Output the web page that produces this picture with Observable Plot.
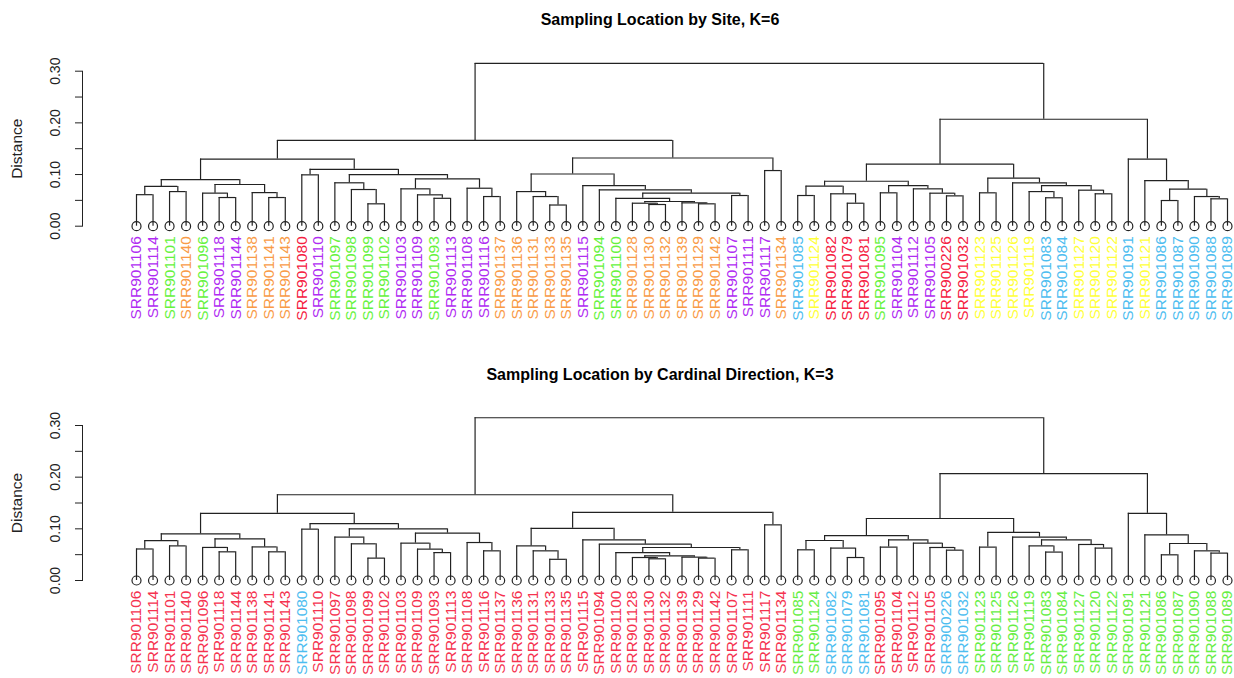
<!DOCTYPE html>
<html><head><meta charset="utf-8">
<script src="https://cdn.jsdelivr.net/npm/d3@7"></script>
<script src="https://cdn.jsdelivr.net/npm/@observablehq/plot@0.6"></script>
<style>
body{margin:0;background:#fff;width:1234px;height:678px;overflow:hidden;font-family:"Liberation Sans",Arial,sans-serif;}
.title{font-weight:bold;font-size:16px;text-align:center;padding-left:86px;box-sizing:border-box;width:1234px;color:#000;height:40px;line-height:40px;}
svg{display:block}
</style></head><body>
<div id="t1" class="title">Sampling Location by Site, K=6</div>
<div id="p1"></div>
<div id="t2" class="title">Sampling Location by Cardinal Direction, K=3</div>
<div id="p2"></div>
<script>
// leaf order as drawn
const leafLabels = ["SRR901106","SRR901114","SRR901101","SRR901140","SRR901096","SRR901118","SRR901144","SRR901138","SRR901141","SRR901143",
"SRR901080","SRR901110","SRR901097","SRR901098","SRR901099","SRR901102","SRR901103","SRR901109","SRR901093","SRR901113",
"SRR901108","SRR901116","SRR901137","SRR901136","SRR901131","SRR901133","SRR901135","SRR901115","SRR901094","SRR901100",
"SRR901128","SRR901130","SRR901132","SRR901139","SRR901129","SRR901142","SRR901107","SRR901111","SRR901117","SRR901134",
"SRR901085","SRR901124","SRR901082","SRR901079","SRR901081","SRR901095","SRR901104","SRR901112","SRR901105","SRR900226",
"SRR901032","SRR901123","SRR901125","SRR901126","SRR901119","SRR901083","SRR901084","SRR901127","SRR901120","SRR901122",
"SRR901091","SRR901121","SRR901086","SRR901087","SRR901090","SRR901088","SRR901089"];

// site cluster (K=6) of each leaf
const siteGroup = ["P","P","G","O","G","P","P","O","O","O",
"R","P","G","G","G","G","P","P","G","P",
"P","P","O","O","O","O","O","P","G","G",
"O","O","O","O","O","O","P","P","P","O",
"B","Y","R","R","R","G","P","P","P","R",
"R","Y","Y","Y","Y","B","B","Y","Y","Y",
"B","Y","B","B","B","B","B"];
const siteNames = ["P","G","O","R","B","Y"];
const siteColors = ["#B02CF2","#66F23D","#F99B47","#F5203F","#4DBDF0","#FFFF3A"];

// cardinal direction cluster (K=3) of each leaf
const directionGroup = ["R","R","R","R","R","R","R","R","R","R",
"B","R","R","R","R","R","R","R","R","R",
"R","R","R","R","R","R","R","R","R","R",
"R","R","R","R","R","R","R","R","R","R",
"G","G","B","B","B","R","R","R","R","B",
"B","G","G","G","G","G","G","G","G","G",
"G","G","G","G","G","G","G"];
const directionNames = ["R","B","G"];
const directionColors = ["#F5334F","#4DBDF0","#66EE44"];

// hclust-style merges: negative = leaf (1-based), positive = earlier merge (1-based); third = height
const merges = [
[-1,-2,0.061],[-3,-4,0.067],[1,2,0.077],[-6,-7,0.0555],[-5,4,0.064],
[-9,-10,0.0555],[-8,6,0.065],[5,7,0.0807],[3,8,0.0903],[-11,-12,0.0994],
[-15,-16,0.0433],[-14,11,0.071],[-13,12,0.084],[-19,-20,0.054],[-18,14,0.0607],
[-17,15,0.0723],[-22,-23,0.0574],[-21,17,0.0735],[16,18,0.0917],[13,19,0.100],
[10,20,0.110],[9,21,0.130],[-26,-27,0.041],[-25,23,0.0574],[-24,24,0.067],
[-32,-33,0.042],[-31,26,0.0445],[-35,-36,0.0433],[-34,28,0.0452],[27,29,0.0478],
[-30,30,0.054],[-37,-38,0.0594],[31,32,0.0639],[-29,33,0.0704],[-28,34,0.0787],
[25,35,0.101],[-39,-40,0.1077],[36,37,0.132],[22,38,0.166],[-41,-42,0.0594],
[-44,-45,0.0445],[-43,41,0.0627],[40,42,0.0774],[-46,-47,0.0646],[-50,-51,0.0587],
[-49,45,0.0639],[-48,46,0.0723],[44,47,0.0787],[43,48,0.087],[-52,-53,0.0646],
[-56,-57,0.055],[-55,51,0.067],[-59,-60,0.0627],[-58,53,0.0697],[52,54,0.0787],
[-54,55,0.084],[50,56,0.093],[49,57,0.120],[-63,-64,0.0497],[-66,-67,0.053],
[-65,60,0.0574],[59,61,0.0716],[-62,62,0.0884],[-61,63,0.130],[58,64,0.207],
[39,65,0.315]];

const yTicks = [0,0.05,0.10,0.15,0.20,0.25,0.30];
const yTickLabels = [0,0.10,0.20,0.30];

// build segments of the dendrogram from the merges
const n = leafLabels.length;
const nodes = [];
const ref = r => r < 0 ? {x: -r - 1, h: 0} : nodes[r - 1];
const hSegs = [], vSegs = [];
for (const [a, b, h] of merges) {
  const A = ref(a), B = ref(b);
  hSegs.push({x1: A.x, x2: B.x, h});
  vSegs.push({x: A.x, h1: A.h, h2: h}, {x: B.x, h1: B.h, h2: h});
  nodes.push({x: (A.x + B.x) / 2, h});
}

const fmt = d3.format(".2f");
function panel(groups, names, colors, height, mt, mb) {
  const leaves = leafLabels.map((label, i) => ({i, label, g: groups[i], h: 0}));
  return Plot.plot({
    width: 1234, height, marginLeft: 82, marginRight: 7, marginTop: mt, marginBottom: mb,
    style: {fontFamily: '"Liberation Sans", Arial, sans-serif', background: "white", color: "#222", overflow: "visible"},
    x: {domain: [0, n - 1], range: [136, 1227], axis: null},
    y: {domain: [0, 0.3], ticks: yTicks, tickSize: 7, tickFormat: () => "", line: true, label: null, axis: "left"},
    color: {domain: names, range: colors},
    marks: [
      Plot.ruleY(hSegs, {y: "h", x1: "x1", x2: "x2", stroke: "#222", strokeWidth: 1.2}),
      Plot.ruleX(vSegs, {x: "x", y1: "h1", y2: "h2", stroke: "#222", strokeWidth: 1.2}),
      Plot.dot(leaves, {x: "i", y: "h", r: 4.5, stroke: "#222", fill: "none", strokeWidth: 1.2}),
      Plot.text(leaves, {x: "i", y: "h", text: "label", rotate: -90, textAnchor: "end", dy: 10, fill: "g", fontSize: 15.5}),
      Plot.text(yTickLabels, {y: d => d, text: d => fmt(d), frameAnchor: "left", textAnchor: "middle", dx: -27, rotate: -90, fontSize: 14, fill: "#222"}),
      Plot.text(["Distance"], {frameAnchor: "left", textAnchor: "middle", dx: -65, rotate: -90, fontSize: 15.5, fill: "#222"})
    ]
  });
}
document.getElementById("p1").appendChild(panel(siteGroup, siteNames, siteColors, 315, 30.7, 129.3));
document.getElementById("p2").appendChild(panel(directionGroup, directionNames, directionColors, 283, 30, 98));
</script>
</body></html>
